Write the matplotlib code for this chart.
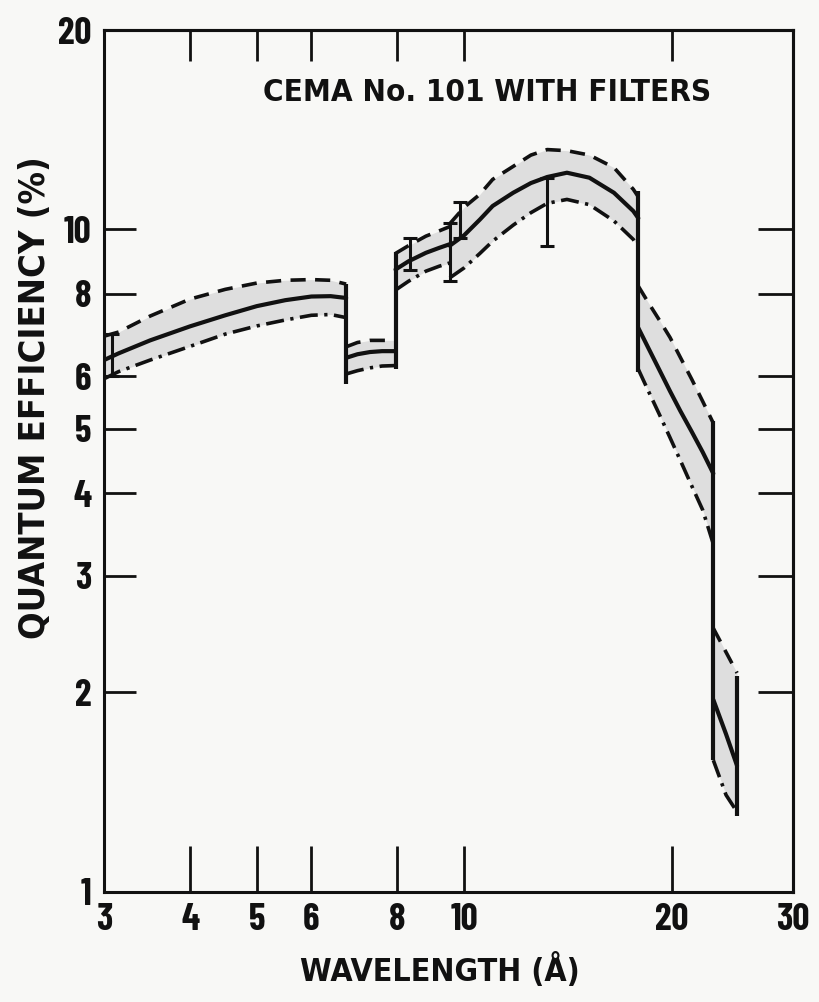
import matplotlib
matplotlib.use("Agg")
import matplotlib.pyplot as plt
from matplotlib.ticker import FixedLocator, FixedFormatter, NullLocator

WORD_FONT = dict(family=["DejaVu Sans"], fontstretch="condensed", fontweight="bold")
DIGIT_FONT = ["Barlow Condensed", "DejaVu Sans"]
INK = "#111111"
SHADE = "#dedede"
PAPER = "#f8f8f6"

# quantum efficiency bands between absorption edges (wavelength in A, QE in %)
seg1_lam = [3.0, 3.15, 3.5, 4.0, 4.5, 5.0, 5.5, 6.0, 6.4, 6.74]
seg1_upper = [6.9, 7.0, 7.4, 7.85, 8.12, 8.3, 8.38, 8.4, 8.38, 8.27]
seg1_mid = [6.35, 6.5, 6.8, 7.14, 7.42, 7.66, 7.82, 7.92, 7.93, 7.88]
seg1_lower = [5.95, 6.1, 6.35, 6.66, 6.95, 7.15, 7.3, 7.42, 7.44, 7.36]

seg2_lam = [6.74, 7.0, 7.3, 7.6, 7.95]
seg2_upper = [6.65, 6.75, 6.8, 6.8, 6.8]
seg2_mid = [6.4, 6.48, 6.53, 6.55, 6.55]
seg2_lower = [6.05, 6.12, 6.18, 6.22, 6.23]

seg3_lam = [7.95, 8.3, 8.8, 9.2, 9.53]
seg3_upper = [9.2, 9.45, 9.77, 9.95, 10.1]
seg3_mid = [8.7, 8.95, 9.22, 9.38, 9.5]
seg3_lower = [8.1, 8.35, 8.65, 8.8, 8.9]

seg4_lam = [9.53, 10.0, 10.54, 11.0, 11.78, 12.5, 13.2, 14.1, 15.2, 16.5, 17.6, 17.9]
seg4_upper = [10.2, 10.8, 11.3, 11.9, 12.45, 12.95, 13.2, 13.15, 12.95, 12.4, 11.5, 11.2]
seg4_mid = [9.45, 9.8, 10.35, 10.85, 11.36, 11.75, 12.0, 12.18, 11.97, 11.36, 10.66, 10.4]
seg4_lower = [8.45, 8.75, 9.2, 9.6, 10.15, 10.6, 10.95, 11.1, 10.9, 10.3, 9.66, 9.4]

seg5_lam = [17.9, 18.5, 19.2, 19.9, 20.6, 21.4, 22.2, 23.0]
seg5_upper = [8.21, 7.76, 7.3, 6.87, 6.41, 5.94, 5.5, 5.1]
seg5_mid = [7.1, 6.63, 6.14, 5.7, 5.32, 4.95, 4.61, 4.28]
seg5_lower = [6.15, 5.71, 5.26, 4.85, 4.48, 4.1, 3.77, 3.35]

seg6_lam = [23.0, 24.0, 24.9]
seg6_upper = [2.5, 2.3, 2.14]
seg6_mid = [1.95, 1.73, 1.55]
seg6_lower = [1.58, 1.4, 1.32]

# vertical steps at the edges
edge_lam = [6.74, 7.95, 17.9, 23.0, 24.9]
edge_lo = [5.85, 6.15, 6.1, 1.58, 1.30]
edge_hi = [8.27, 9.25, 11.44, 5.13, 2.12]

# calibration error bars
err_lam = [3.08, 8.35, 9.53, 9.85, 13.17]
err_lo = [6.0, 8.7, 8.35, 9.7, 9.45]
err_hi = [6.95, 9.7, 10.24, 11.0, 11.95]

x_ticks = [3, 4, 5, 6, 8, 10, 20, 30]
x_labels = ["3", "4", "5", "6", "8", "10", "20", "30"]
y_ticks = [1, 2, 3, 4, 5, 6, 8, 10, 20]
y_labels = ["1", "2", "3", "4", "5", "6", "8", "10", "20"]

segments = [
    (seg1_lam, seg1_upper, seg1_mid, seg1_lower),
    (seg2_lam, seg2_upper, seg2_mid, seg2_lower),
    (seg3_lam, seg3_upper, seg3_mid, seg3_lower),
    (seg4_lam, seg4_upper, seg4_mid, seg4_lower),
    (seg5_lam, seg5_upper, seg5_mid, seg5_lower),
    (seg6_lam, seg6_upper, seg6_mid, seg6_lower),
]

fig = plt.figure(figsize=(8.19, 10.02), dpi=100, facecolor=PAPER)
ax = fig.add_axes([0.127, 0.110, 0.841, 0.860], facecolor=PAPER)
ax.set_xscale("log")
ax.set_yscale("log")
ax.set_xlim(3, 30)
ax.set_ylim(1, 20)

for lam, upper, mid, lower in segments:
    ax.fill_between(lam, lower, upper, color=SHADE, lw=0, zorder=1)
    ax.plot(lam, upper, color=INK, lw=2.6, linestyle=(0, (4.2, 2.6)), zorder=3)
    ax.plot(lam, mid, color=INK, lw=3.0, solid_capstyle="round", zorder=3)
    ax.plot(lam, lower, color=INK, lw=2.6, linestyle=(0, (5.0, 1.8, 0.9, 1.8)), zorder=3)

ax.vlines(edge_lam, edge_lo, edge_hi, color=INK, lw=3.0, zorder=4)

for lam, lo, hi in zip(err_lam, err_lo, err_hi):
    mid = (lo * hi) ** 0.5
    ax.errorbar([lam], [mid], yerr=[[mid - lo], [hi - mid]], fmt="none",
                ecolor=INK, elinewidth=2.2, capsize=5, capthick=2.2, zorder=4)

ax.text(0.556, 0.927, "CEMA No. 101 WITH FILTERS", transform=ax.transAxes,
        ha="center", va="center", fontsize=22.5, color=INK, **WORD_FONT)

for side in ax.spines.values():
    side.set_linewidth(2.2)
    side.set_color(INK)

ax.xaxis.set_major_locator(FixedLocator(x_ticks))
ax.xaxis.set_major_formatter(FixedFormatter(x_labels))
ax.xaxis.set_minor_locator(NullLocator())
ax.yaxis.set_major_locator(FixedLocator(y_ticks))
ax.yaxis.set_major_formatter(FixedFormatter(y_labels))
ax.yaxis.set_minor_locator(NullLocator())
ax.tick_params(axis="x", direction="in", length=33, width=2.0, color=INK,
               top=False, pad=8, labelsize=27)
ax.tick_params(axis="y", direction="in", length=23, width=2.0, color=INK,
               right=False, pad=9, labelsize=27)
for lab in ax.get_xticklabels() + ax.get_yticklabels():
    lab.set_fontfamily(DIGIT_FONT)
    lab.set_fontweight("bold")
    lab.set_color(INK)

top = ax.secondary_xaxis("top")
top.xaxis.set_major_locator(FixedLocator(x_ticks))
top.xaxis.set_minor_locator(NullLocator())
top.tick_params(direction="in", length=22, width=2.0, color=INK, labeltop=False)
top.spines["top"].set_linewidth(2.2)

right = ax.secondary_yaxis("right")
right.yaxis.set_major_locator(FixedLocator(y_ticks))
right.yaxis.set_minor_locator(NullLocator())
right.tick_params(direction="in", length=25, width=2.0, color=INK, labelright=False)
right.spines["right"].set_linewidth(2.2)

fig.text(0.537, 0.031, "WAVELENGTH (\u00c5)", ha="center", va="center",
         fontsize=23, color=INK, **WORD_FONT)
fig.text(0.043, 0.603, "QUANTUM EFFICIENCY (%)", ha="center", va="center",
         rotation=90, fontsize=26, color=INK, **WORD_FONT)

fig.savefig("out.png", dpi=100, facecolor=PAPER)
